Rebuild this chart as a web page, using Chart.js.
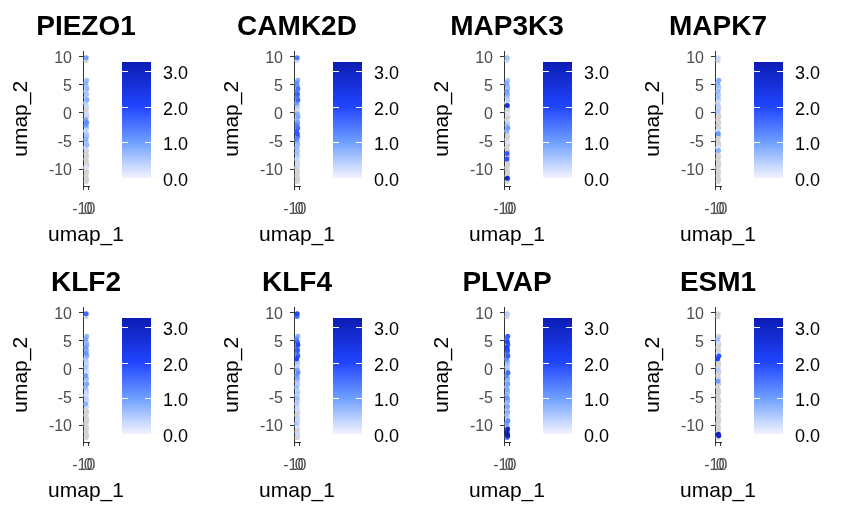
<!DOCTYPE html>
<html>
<head>
<meta charset="utf-8">
<script src="https://cdn.jsdelivr.net/npm/chart.js@4.4.0/dist/chart.umd.min.js"></script>
<style>
  body { margin: 0; background: #fff; width: 843px; height: 512px; position: relative; overflow: hidden; }
  canvas { position: absolute; }
</style>
</head>
<body>
<script>
// genes, one panel each (4 x 2)
const genes = ["PIEZO1", "CAMK2D", "MAP3K3", "MAPK7", "KLF2", "KLF4", "PLVAP", "ESM1"];

// cell coordinates (same cells in every panel)
const umap1 = [-4.5, -5.0, -3.2, -5.6, -4.1, -2.9, -5.2, -3.8, -4.6, -3.0, -5.8, -4.3, -3.4, -5.1, -4.0, -2.8, -5.5, -3.6, -4.8, -3.1,
               -5.9, -4.2, -3.3, -5.3, -4.4, -2.9, -5.7, -3.7, -4.9, -3.2, -5.4, -4.0, -3.0, -5.6, -4.5, -3.5, -5.0, -4.1, -3.3, -4.7];
const umap2 = [9.8, 9.3, 5.8, 5.3, 4.8, 4.3, 3.8, 3.3, 2.8, 2.3, 1.8, 1.3, 0.8, 0.3, -0.2, -0.7, -1.2, -1.7, -2.2, -2.7,
               -3.2, -3.7, -4.2, -4.7, -5.2, -5.7, -6.2, -6.7, -7.2, -7.7, -8.2, -8.7, -9.2, -9.7, -10.2, -10.7, -11.2, -11.6, -11.9, -12.2];

// expression per gene, same cell order as above
const piezo1 = [1.0, 0, 0.6, 0.8, 0.5, 0.7, 0.4, 0.6, 0.5, 0.8, 0.4, 0.3, 0, 0, 0.3, 0, 0.9, 1.2, 1.0, 0.4,
                0.3, 0.5, 0.6, 0.8, 0.5, 0.7, 0.3, 0, 0, 0, 0, 0, 0, 0.2, 0, 0, 0, 0, 0, 0];
const camk2d = [1.4, 0.3, 0.8, 1.2, 1.0, 1.5, 1.3, 1.7, 1.2, 1.6, 1.0, 0.6, 0.3, 0, 0.8, 0.9, 0.7, 1.0, 1.3, 1.5,
                1.7, 1.8, 1.4, 1.2, 0.8, 0.6, 0.7, 0.5, 0.6, 0.4, 0.3, 0, 0.3, 0, 0, 0, 0, 0, 0, 0];
const map3k3 = [0.6, 0.3, 0.5, 0.9, 0.7, 0.6, 1.0, 0.8, 0.5, 0.4, 0.3, 2.6, 0, 0, 0.2, 0, 0, 0.3, 0.6, 1.0,
                0.8, 0, 0, 0, 0.2, 0, 0, 0, 1.8, 0, 1.9, 0, 0, 0, 0, 0, 0, 2.9, 0, 0];
const mapk7 = [0.3, 0, 0.9, 0.8, 0.6, 0.4, 0.7, 0.5, 0.6, 0.3, 0, 0.4, 0, 0.5, 0, 0, 0, 0, 0, 0,
               0.3, 1.1, 0, 0, 0, 0, 0.2, 0.8, 0, 0, 0, 0, 0, 0, 0, 0, 0, 0, 0, 0];
const klf2 = [1.6, 0, 0.7, 0.9, 0.6, 0.8, 1.0, 0.7, 1.1, 0.8, 0.5, 0.4, 0.3, 0.5, 0.3, 0.2, 1.0, 0.6, 0.4, 0.9,
              0.7, 0.4, 0.3, 0.2, 0.4, 0.2, 0.8, 0.3, 0, 0, 0, 0, 0, 0, 0, 0, 0, 0, 0, 0];
const klf4 = [2.0, 1.5, 0.8, 1.2, 1.6, 2.0, 1.4, 1.8, 1.3, 1.7, 2.1, 0.6, 0.4, 0.3, 0.9, 1.2, 1.0, 0.8, 0.5, 0.4,
              0.6, 0.3, 0.5, 0.4, 0.6, 0.3, 0.5, 0.2, 0.3, 0, 0, 0.4, 0.3, 0.5, 0.2, 0, 0, 0.3, 0, 0];
const plvap = [0.5, 0, 1.8, 1.5, 2.0, 1.6, 2.2, 1.9, 1.4, 1.7, 1.2, 0.8, 0.5, 0.4, 0.6, 1.6, 1.2, 0.8, 0.6, 1.0,
               0.7, 0.9, 0.6, 0.8, 1.1, 0.7, 0.6, 0.9, 0.5, 0.8, 0.6, 0.4, 1.2, 1.0, 0.5, 2.8, 3.1, 3.2, 2.9, 1.5];
const esm1 = [0, 0, 0, 0.6, 0.3, 0, 0, 0, 0.3, 1.8, 2.0, 0, 0, 0, 0.5, 0, 0, 0, 1.0, 0,
              0, 0, 0, 0, 0, 0, 0, 0, 0, 0, 0, 0, 0, 0, 0, 0, 0, 3.0, 2.7, 0];
const exprByGene = [piezo1, camk2d, map3k3, mapk7, klf2, klf4, plvap, esm1];

// axis ticks
const xTicks = [-10, 0];
const yTicks = [-10, -5, 0, 5, 10];
const barTicks = [0, 1, 2, 3];
const barMax = 3.25;

// colour scale
const stopValues = [0, 1, 2, 3.25];
const stopColors = ["#f3f3ff", "#6fa0ff", "#2145ff", "#0b1cb3"];
const zeroColor = "#d3d3d3";

const fontFam = "'Liberation Sans', Arial, sans-serif";
Chart.defaults.font.family = fontFam;
Chart.defaults.animation = false;

function hex(c) {
  return [1, 3, 5].map((i) => parseInt(c.slice(i, i + 2), 16));
}

function colorFor(v) {
  if (v <= 0) return zeroColor;
  for (let i = 1; i < stopValues.length; i++) {
    if (v <= stopValues[i] || i === stopValues.length - 1) {
      const t = Math.min(1, (v - stopValues[i - 1]) / (stopValues[i] - stopValues[i - 1]));
      const a = hex(stopColors[i - 1]), b = hex(stopColors[i]);
      const m = a.map((x, k) => Math.round(x + (b[k] - x) * t));
      return "rgb(" + m.join(",") + ")";
    }
  }
}

function addCanvas(left, top, w, h) {
  const c = document.createElement("canvas");
  c.width = w;
  c.height = h;
  c.style.left = left + "px";
  c.style.top = top + "px";
  c.style.width = w + "px";
  c.style.height = h + "px";
  document.body.appendChild(c);
  return c;
}

// white tick marks on the colour bar
const barTickMarks = {
  id: "barTickMarks",
  afterDatasetsDraw(chart) {
    const { ctx, chartArea: a, scales: { y } } = chart;
    ctx.save();
    ctx.strokeStyle = "#ffffff";
    ctx.lineWidth = 1;
    barTicks.forEach((v) => {
      const p = Math.round(y.getPixelForValue(v)) + 0.5;
      ctx.beginPath();
      ctx.moveTo(a.left, p);
      ctx.lineTo(a.left + 6, p);
      ctx.moveTo(a.right - 6, p);
      ctx.lineTo(a.right, p);
      ctx.stroke();
    });
    ctx.restore();
  }
};

// x axis title, drawn unsqueezed (the panel is only a few px wide)
const xTitle = {
  id: "xTitle",
  afterDraw(chart) {
    const xs = chart.scales.x;
    const ctx = chart.ctx;
    ctx.save();
    ctx.font = "21px " + fontFam;
    ctx.fillStyle = "#000";
    ctx.textAlign = "center";
    ctx.textBaseline = "middle";
    ctx.fillText("umap_1", (xs.left + xs.right) / 2, xs.bottom - 20);
    ctx.restore();
  }
};

genes.forEach((gene, gi) => {
  const ox = Math.round((gi % 4) * 210.5);
  const oy = Math.round(Math.floor(gi / 4) * 255.5);
  const expr = exprByGene[gi];

  // draw low values first so the expressing cells sit on top
  const order = expr.map((v, i) => i).sort((a, b) => expr[a] - expr[b]);
  const pts = order.map((i) => ({ x: umap1[i], y: umap2[i] }));
  const cols = order.map((i) => colorFor(expr[i]));

  new Chart(addCanvas(ox, oy, 172, 255), {
    type: "scatter",
    data: {
      datasets: [{
        data: pts,
        pointBackgroundColor: cols,
        pointRadius: 2.5,
        pointHoverRadius: 2.5,
        pointBorderWidth: 0,
        clip: false
      }]
    },
    options: {
      responsive: false,
      events: [],
      layout: { autoPadding: false, padding: 0 },
      plugins: {
        legend: { display: false },
        tooltip: { enabled: false },
        title: {
          display: true,
          text: gene,
          color: "#000",
          font: { size: 28, weight: "bold" },
          padding: { top: 10, bottom: 8 }
        }
      },
      scales: {
        x: {
          type: "linear",
          min: -12,
          max: 2,
          afterBuildTicks: (s) => { s.ticks = xTicks.map((v) => ({ value: v })); },
          afterFit: (s) => { s.height = 69; },
          ticks: { autoSkip: false, maxRotation: 0, color: "#4d4d4d", font: { size: 16 }, padding: 10 },
          grid: { drawOnChartArea: false, tickLength: 4, color: "#333" },
          border: { color: "#333", width: 1 }
        },
        y: {
          min: -13,
          max: 10.9,
          afterBuildTicks: (s) => { s.ticks = yTicks.map((v) => ({ value: v })); },
          afterFit: (s) => { s.width = 83; },
          ticks: { color: "#4d4d4d", font: { size: 16 }, padding: 7, labelOffset: 1.5 },
          grid: { drawOnChartArea: false, tickLength: 4, color: "#333" },
          border: { color: "#333", width: 1 },
          title: { display: true, text: "umap_2", color: "#000", font: { size: 21 }, padding: { top: 9, bottom: 0 } }
        },
        // empty space on the right so the panel stays narrow
        yRight: {
          type: "linear",
          position: "right",
          afterFit: (s) => { s.width = 83; },
          ticks: { display: false },
          grid: { display: false },
          border: { display: false }
        }
      }
    },
    plugins: [xTitle]
  });

  // colour bar legend
  new Chart(addCanvas(ox + 122, oy + 50, 89, 140), {
    type: "bar",
    data: {
      labels: [""],
      datasets: [{
        data: [[0, barMax]],
        borderWidth: 0,
        barPercentage: 1,
        categoryPercentage: 1,
        backgroundColor: (c) => {
          const ch = c.chart;
          if (!ch.chartArea) return null;
          const ys = ch.scales.y;
          const g = ch.ctx.createLinearGradient(0, ys.getPixelForValue(0), 0, ys.getPixelForValue(barMax));
          stopValues.forEach((v, i) => g.addColorStop(v / barMax, stopColors[i]));
          return g;
        }
      }]
    },
    options: {
      responsive: false,
      events: [],
      layout: { autoPadding: false, padding: { left: 0, right: 0, top: 12, bottom: 12 } },
      plugins: { legend: { display: false }, tooltip: { enabled: false } },
      scales: {
        x: { display: false },
        y: {
          position: "right",
          min: 0,
          max: barMax,
          afterBuildTicks: (s) => { s.ticks = barTicks.map((v) => ({ value: v })); },
          afterFit: (s) => { s.width = 60; s.paddingTop = 0; s.paddingBottom = 0; },
          grid: { display: false, drawTicks: false },
          border: { display: false },
          ticks: { color: "#000", font: { size: 18 }, padding: 12, labelOffset: 3, callback: (v) => Number(v).toFixed(1) }
        }
      }
    },
    plugins: [barTickMarks]
  });
});
</script>
</body>
</html>
